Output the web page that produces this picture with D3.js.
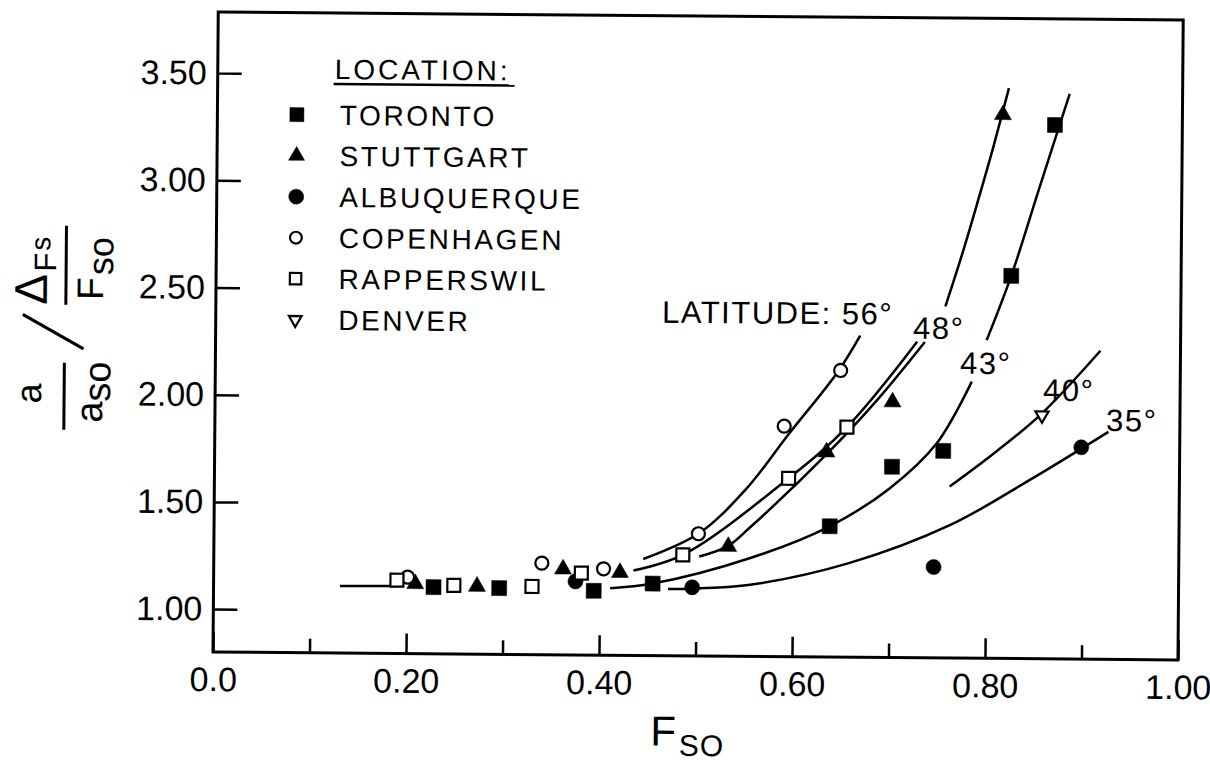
<!DOCTYPE html>
<html>
<head>
<meta charset="utf-8">
<script src="https://cdn.jsdelivr.net/npm/d3@7"></script>
<style>
  body { margin: 0; background: #fff; }
  text { font-family: "Liberation Sans", Arial, sans-serif; fill: #000; }
</style>
</head>
<body>
<div id="chart"></div>
<script>
var svgWidth = 1210;
var svgHeight = 764;

// measured points [Fso, ratio]
var toronto = [[0.228, 1.111], [0.296, 1.109], [0.394, 1.100], [0.455, 1.136], [0.638, 1.41], [0.702, 1.69], [0.755, 1.766], [0.824, 2.585], [0.868, 3.29]];
var stuttgart = [[0.209, 1.126], [0.273, 1.116], [0.362, 1.20], [0.421, 1.186], [0.533, 1.312], [0.634, 1.756], [0.702, 1.992], [0.814, 3.336]];
var albuquerque = [[0.375, 1.143], [0.496, 1.12], [0.746, 1.224], [0.898, 1.788]];
var copenhagen = [[0.201, 1.157], [0.340, 1.227], [0.404, 1.203], [0.502, 1.37], [0.590, 1.875], [0.648, 2.137]];
var rapperswil = [[0.190, 1.142], [0.249, 1.12], [0.330, 1.118], [0.381, 1.182], [0.486, 1.271], [0.595, 1.632], [0.655, 1.873]];
var denver = [[0.857, 1.936]];

// hand drawn curves
var curveFlat = [[0.131, 1.113], [0.19, 1.115]];
var curve56 = [[0.445, 1.25], [0.502, 1.37], [0.55, 1.575], [0.595, 1.84], [0.645, 2.13], [0.668, 2.30]];
var curve48a = [[0.435, 1.196], [0.486, 1.271], [0.595, 1.632], [0.655, 1.873], [0.727, 2.274]];
var curve48b = [[0.503, 1.264], [0.533, 1.315], [0.555, 1.40], [0.634, 1.745], [0.686, 2.0], [0.735, 2.273]];
var curve48c = [[0.756, 2.44], [0.772, 2.67], [0.788, 2.92], [0.804, 3.18], [0.82, 3.46]];
var curve43a = [[0.411, 1.113], [0.455, 1.136], [0.556, 1.259], [0.638, 1.41], [0.70, 1.59], [0.748, 1.80], [0.784, 2.09]];
var curve43b = [[0.799, 2.284], [0.824, 2.585], [0.852, 2.99], [0.883, 3.436]];
var curve40 = [[0.762, 1.60], [0.81, 1.765], [0.857, 1.945], [0.917, 2.239]];
var curve35 = [[0.471, 1.111], [0.50, 1.115], [0.556, 1.134], [0.659, 1.24], [0.763, 1.421], [0.845, 1.634], [0.926, 1.861]];

var latLabels = ["LATITUDE: 56°", "48°", "43°", "40°", "35°"];
var latLabelAt = [[0.4625, 2.353], [0.7227, 2.288], [0.7717, 2.126], [0.858, 2.003], [0.9235, 1.865]];

var legendNames = ["TORONTO", "STUTTGART", "ALBUQUERQUE", "COPENHAGEN", "RAPPERSWIL", "DENVER"];

var xMajor = [0, 0.2, 0.4, 0.6, 0.8, 1.0];
var xMinor = [0.1, 0.3, 0.5, 0.7, 0.9];
var xLabels = ["0.0", "0.20", "0.40", "0.60", "0.80", "1.00"];
var yTicks = [1.0, 1.5, 2.0, 2.5, 3.0, 3.5];
var yLabels = ["1.00", "1.50", "2.00", "2.50", "3.00", "3.50"];

var width = 965;
var height = 640;

var svg = d3.select("#chart")
    .append("svg")
    .attr("width", svgWidth)
    .attr("height", svgHeight);

// the scan is tilted a little, so the whole figure is turned with it
var chartGroup = svg.append("g")
    .attr("transform", "rotate(0.47, 213, 652) translate(213, 12)");

var xScale = d3.scaleLinear().domain([0, 1]).range([0, width]);
var yScale = d3.scaleLinear().domain([0.8, 3.785]).range([height, 0]);

// frame
chartGroup.append("rect")
    .attr("x", 0).attr("y", 0)
    .attr("width", width).attr("height", height)
    .attr("fill", "none")
    .attr("stroke", "black")
    .attr("stroke-width", 3);

var majorAxis = chartGroup.append("g")
    .attr("transform", `translate(0, ${height})`)
    .call(d3.axisBottom(xScale).tickValues(xMajor).tickSize(-20).tickPadding(15)
        .tickFormat((d, i) => xLabels[i]));

var minorAxis = chartGroup.append("g")
    .attr("transform", `translate(0, ${height})`)
    .call(d3.axisBottom(xScale).tickValues(xMinor).tickSize(-14).tickFormat(""));

var leftAxis = chartGroup.append("g")
    .call(d3.axisLeft(yScale).tickValues(yTicks).tickSize(-24).tickPadding(11)
        .tickFormat((d, i) => yLabels[i]));

[majorAxis, minorAxis, leftAxis].forEach(function(ax) {
    ax.select(".domain").remove();
    ax.selectAll("line").attr("stroke", "black").attr("stroke-width", 2.5);
    ax.selectAll("text")
        .attr("font-family", "Liberation Sans, Arial, sans-serif")
        .attr("font-size", "34px")
        .attr("fill", "black");
});

// curves
var line = d3.line()
    .x(d => xScale(d[0]))
    .y(d => yScale(d[1]))
    .curve(d3.curveCatmullRom.alpha(0.5));

var curves = [curveFlat, curve56, curve48a, curve48b, curve48c, curve43a, curve43b, curve40, curve35];

chartGroup.selectAll(".fit")
    .data(curves)
    .enter()
    .append("path")
    .attr("class", "fit")
    .attr("d", line)
    .attr("fill", "none")
    .attr("stroke", "black")
    .attr("stroke-width", 2.5);

// markers
var series = [
    {name: legendNames[0], data: toronto, type: d3.symbolSquare, size: 225, filled: true, rot: 0},
    {name: legendNames[1], data: stuttgart, type: d3.symbolTriangle, size: 125, filled: true, rot: 0},
    {name: legendNames[2], data: albuquerque, type: d3.symbolCircle, size: 180, filled: true, rot: 0},
    {name: legendNames[3], data: copenhagen, type: d3.symbolCircle, size: 133, filled: false, rot: 0},
    {name: legendNames[4], data: rapperswil, type: d3.symbolSquare, size: 169, filled: false, rot: 0},
    {name: legendNames[5], data: denver, type: d3.symbolTriangle, size: 75, filled: false, rot: 180}
];

series.forEach(function(s) {
    chartGroup.append("g").selectAll("path")
        .data(s.data)
        .enter()
        .append("path")
        .attr("d", d3.symbol().type(s.type).size(s.size))
        .attr("transform", d => `translate(${xScale(d[0])}, ${yScale(d[1])}) rotate(${s.rot})`)
        .attr("fill", s.filled ? "black" : "white")
        .attr("stroke", "black")
        .attr("stroke-width", s.filled ? 0.5 : 2.2);
});

// latitude labels
chartGroup.selectAll(".lat")
    .data(latLabels)
    .enter()
    .append("text")
    .attr("class", "lat")
    .attr("x", (d, i) => xScale(latLabelAt[i][0]))
    .attr("y", (d, i) => yScale(latLabelAt[i][1]))
    .attr("font-size", "31px")
    .attr("letter-spacing", "1.5px")
    .text(d => d);

// legend (in plot pixels)
var legend = chartGroup.append("g").attr("transform", "translate(-213, -12)");

legend.append("text")
    .attr("x", 330).attr("y", 78)
    .attr("font-size", "28px")
    .attr("letter-spacing", "3px")
    .text("LOCATION:");
legend.append("line")
    .attr("x1", 329).attr("x2", 510)
    .attr("y1", 83).attr("y2", 83)
    .attr("stroke", "black").attr("stroke-width", 2.5);

var legendSize = [196, 111, 177, 110, 130, 70];

var legendRows = legend.selectAll(".row")
    .data(series)
    .enter()
    .append("g")
    .attr("class", "row")
    .attr("transform", (d, i) => `translate(292.5, ${114 + i * 41})`);

legendRows.append("path")
    .attr("d", (d, i) => d3.symbol().type(d.type).size(legendSize[i])())
    .attr("transform", d => `rotate(${d.rot})`)
    .attr("fill", d => d.filled ? "black" : "white")
    .attr("stroke", "black")
    .attr("stroke-width", d => d.filled ? 0.5 : 2.2);

legendRows.append("text")
    .attr("x", 43)
    .attr("y", 10)
    .attr("font-size", "28px")
    .attr("letter-spacing", "2.6px")
    .text(d => d.name);

// x title
var xTitle = legend.append("text")
    .attr("x", 651).attr("y", 742)
    .attr("font-size", "42px");
xTitle.append("tspan").text("F");
xTitle.append("tspan").attr("font-size", "30px").attr("dx", 3).attr("dy", 10).attr("letter-spacing", "1px").text("SO");

// y title: a/aso / ΔFs/Fso written upward
var yTitle = legend.append("g").attr("transform", "translate(60, 333) rotate(-90)");

yTitle.append("line")
    .attr("x1", -98).attr("x2", -31).attr("y1", 2).attr("y2", 2)
    .attr("stroke", "black").attr("stroke-width", 3);
yTitle.append("text")
    .attr("x", -62).attr("y", -21)
    .attr("text-anchor", "middle")
    .attr("font-size", "36px")
    .text("a");
var den1 = yTitle.append("text")
    .attr("x", -60).attr("y", 40)
    .attr("text-anchor", "middle")
    .attr("font-size", "38px");
den1.append("tspan").text("a");
den1.append("tspan").attr("dy", 8).text("so");

yTitle.append("line")
    .attr("x1", 27).attr("x2", 106).attr("y1", 3).attr("y2", 3)
    .attr("stroke", "black").attr("stroke-width", 3);
yTitle.append("text")
    .attr("x", 27).attr("y", -16)
    .attr("font-size", "46px")
    .text("Δ");
yTitle.append("text")
    .attr("x", 60).attr("y", -7)
    .attr("font-size", "31px")
    .text("F");
yTitle.append("text")
    .attr("x", 81).attr("y", -13)
    .attr("font-size", "28px")
    .text("s");
yTitle.append("text")
    .attr("x", 32).attr("y", 40)
    .attr("font-size", "37px")
    .text("F");
yTitle.append("text")
    .attr("x", 57).attr("y", 50)
    .attr("font-size", "36px")
    .text("so");

legend.append("line")
    .attr("x1", 20).attr("y1", 316)
    .attr("x2", 81).attr("y2", 350)
    .attr("stroke", "black").attr("stroke-width", 3);
</script>
</body>
</html>
